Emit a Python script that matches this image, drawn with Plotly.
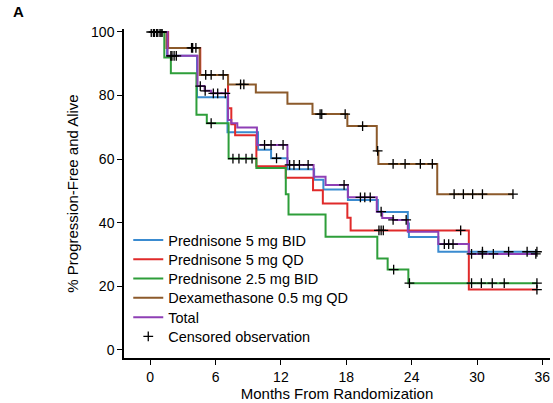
import bisect
import plotly.graph_objects as go

# ---- data (months, % progression-free and alive) ----
blue_t = [0, 1.55, 4.3, 7.1, 9.9, 11.1, 12.6, 15.05, 15.9, 18.15, 20.9, 23.65, 23.75, 26.45, 35.5]
blue_s = [100, 92.5, 79.5, 68.5, 63, 60.3, 56.8, 53.5, 50.5, 47.2, 43.4, 39.8, 35.5, 30.9, 30.9]
blue_c = [0.3, 0.9, 2.0, 2.4, 11.6, 30.5, 32.9, 34.6, 35.5]

red_t = [0, 1.65, 4.6, 7.15, 7.45, 7.8, 9.75, 12.45, 14.95, 15.85, 18.1, 18.4, 29.25, 35.5]
red_s = [100, 95, 86.5, 76, 71, 67.5, 57.8, 54.2, 50.2, 46.1, 41.6, 37.6, 19, 19]
red_c = [0.6, 1.1, 3.9, 21.0, 21.2, 21.4, 28.5, 35.5]

green_t = [0, 1.3, 1.9, 4.25, 5.2, 7.2, 9.75, 12.45, 12.7, 16.1, 20.85, 21.8, 23.7, 35.5]
green_s = [100, 92, 87, 74, 71.3, 60.2, 57.2, 49, 42.6, 35.6, 28.8, 25.3, 21, 21]
green_c = [0.4, 5.6, 7.6, 8.15, 8.8, 9.35, 22.35, 23.8, 29.5, 30.4, 31.4, 32.5, 35.5]

brown_t = [0, 1.5, 4.55, 7.15, 9.7, 12.6, 14.9, 18.1, 20.8, 20.95, 26.35, 33.3]
brown_s = [100, 95, 86.5, 83.5, 81, 77.4, 74.2, 70.4, 62.6, 58.5, 49, 49]
brown_c = [1.0, 3.8, 4.2, 5.1, 5.6, 6.7, 8.3, 8.6, 15.6, 15.75, 17.9, 19.5, 20.88,
           22.3, 23.4, 24.8, 25.9, 27.9, 28.75, 29.6, 30.5, 33.3]

purple_t = [0, 1.6, 4.35, 5.0, 5.6, 7.15, 7.45, 8.0, 9.8, 12.6, 15.0, 16.1, 18.15,
            20.8, 21.3, 22.3, 23.65, 26.45, 29.25, 35.5]
purple_s = [100, 92.5, 83, 81.5, 80.7, 72.3, 71.3, 70, 64.5, 58.2, 54.5, 51.9, 48,
            43.5, 41.5, 40.9, 37.2, 33.3, 30.2, 30.2]
purple_c = [0.1, 0.7, 1.9, 2.2, 4.6, 5.05, 5.8, 6.2, 6.9, 10.5, 11.1, 12.2, 12.8, 13.2,
            13.7, 14.5, 17.8, 19.3, 19.7, 20.2, 21.2, 22.3, 23.5, 27.0, 27.4, 27.8,
            29.5, 30.5, 31.5, 35.4]

x_ticks = [0, 6, 12, 18, 24, 30, 36]
y_ticks = [0, 20, 40, 60, 80, 100]

series = [
    ("Prednisone 5 mg BID", "#3a8bd0", blue_t, blue_s, blue_c),
    ("Prednisone 5 mg QD", "#e02a2a", red_t, red_s, red_c),
    ("Prednisone 2.5 mg BID", "#2e9e3a", green_t, green_s, green_c),
    ("Dexamethasone 0.5 mg QD", "#8c5a2b", brown_t, brown_s, brown_c),
    ("Total", "#8e3fb5", purple_t, purple_s, purple_c),
]


def surv_at(t_list, s_list, t):
    i = bisect.bisect_right(t_list, t) - 1
    return s_list[max(i, 0)]


legend_ids = ["legend", "legend2", "legend3", "legend4", "legend5", "legend6"]

fig = go.Figure()
cx, cy = [], []
for k, (name, color, t, s, c) in enumerate(series):
    fig.add_trace(go.Scatter(x=t, y=s, mode="lines", name=name, legend=legend_ids[k],
                             line=dict(color=color, width=2, shape="hv")))
    for tc in c:
        cx.append(tc)
        cy.append(surv_at(t, s, tc))

fig.add_trace(go.Scatter(x=cx, y=cy, mode="markers", name="Censored observation",
                         legend=legend_ids[5],
                         marker=dict(symbol="cross-thin", size=7,
                                     line=dict(color="black", width=1.3),
                                     color="black")))

FAM = "Arial, Liberation Sans, Helvetica, sans-serif"
tick_font = dict(family=FAM, size=14, color="black")
title_font = dict(family=FAM, size=15, color="black")
leg_font = dict(family=FAM, size=14.5, color="black")

# plot area: 124..550 px horizontally, 29..358 px vertically
row_step = 19.3 / 329.0
legends = {}
for i, lid in enumerate(legend_ids):
    legends[lid] = dict(x=0.01, y=(358 - 240) / 329.0 - i * row_step,
                        xanchor="left", yanchor="middle",
                        bgcolor="rgba(0,0,0,0)", font=leg_font)

fig.update_layout(
    width=553, height=403,
    margin=dict(l=124, r=3, t=29, b=45),
    paper_bgcolor="white", plot_bgcolor="white",
    font=tick_font,
    showlegend=True,
    annotations=[dict(text="<b>A</b>", x=-0.265, y=1.052, xref="paper", yref="paper",
                      xanchor="left", yanchor="middle", showarrow=False,
                      font=dict(family=FAM, size=15, color="black"))],
    **legends,
)
fig.update_xaxes(range=[-2.4, 36.7], tickvals=x_ticks, automargin=False,
                 showline=True, linecolor="black", linewidth=1.5,
                 ticks="outside", ticklen=5, tickwidth=1.2, tickcolor="black",
                 showgrid=False, zeroline=False, tickfont=tick_font,
                 title=dict(text="Months From Randomization", standoff=3, font=title_font))
fig.update_yaxes(range=[-2.52, 100.94], tickvals=y_ticks, automargin=False,
                 showline=True, linecolor="black", linewidth=1.5,
                 ticks="outside", ticklen=5, tickwidth=1.2, tickcolor="black",
                 showgrid=False, zeroline=False, tickfont=tick_font,
                 title=dict(text="% Progression-Free and Alive", standoff=9, font=title_font))

fig.write_html("out.html", config={"displayModeBar": False},
               post_script="document.body.style.margin='0';document.body.style.overflow='hidden';")
